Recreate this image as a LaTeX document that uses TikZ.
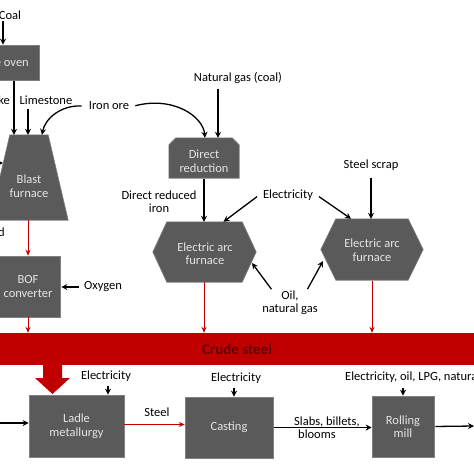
\documentclass[tikz,border=0pt]{standalone}
\usepackage{fontspec}
\setmainfont{Carlito}
\usetikzlibrary{arrows.meta,calc,backgrounds}
\definecolor{boxgray}{HTML}{5A5A5A}
\definecolor{boxedge}{HTML}{808080}
\definecolor{boxtext}{HTML}{E4E4E4}
\definecolor{steelred}{HTML}{C00000}
\definecolor{darkred}{HTML}{660000}
\begin{document}
\begin{tikzpicture}[x=1pt,y=-1pt,
  every node/.style={font=\fontsize{12.5}{13.5}\selectfont, inner sep=0pt, align=center},
  boxtxt/.style={text=boxtext},
  procbox/.style={rectangle, fill=boxgray, draw=boxedge, line width=0.6pt, text=boxtext},
  ghost/.style={rectangle, draw=none},
  shapefill/.style={fill=boxgray, draw=boxedge, line width=0.6pt},
  arr/.style={-{Stealth[length=6pt,width=6pt]}, line width=1.3pt, black, shorten <=1pt},
  redarr/.style={-{Stealth[length=6pt,width=5pt]}, line width=1pt, steelred}]
\useasboundingbox (0,0) rectangle (474,474);
\clip (0,0) rectangle (474,474);

% ---------- process nodes ----------
\node[procbox, minimum width=76pt, minimum height=35pt] (coke) at (1,62.5) {};
\node[boxtxt, anchor=east] (coketext) at (29,62.5) {Coke oven};
\node[ghost, minimum width=78pt, minimum height=85pt] (bf) at (29,177.5) {};
\node[boxtxt] (bftext) at (29,186) {Blast\\furnace};
\node[procbox, minimum width=64pt, minimum height=61pt] (bof) at (28,286.5) {BOF\\converter};
\node[ghost, minimum width=70pt, minimum height=40pt] (dr) at (204,158) {};
\node[boxtxt] (drtext) at (204,161) {Direct\\reduction};
\node[ghost, minimum width=103pt, minimum height=60pt] (eaf1) at (204.5,252) {};
\node[boxtxt] (eaf1text) at (205,253.5) {Electric arc\\furnace};
\node[ghost, minimum width=102pt, minimum height=61pt] (eaf2) at (372,249.5) {};
\node[boxtxt] (eaf2text) at (372,250) {Electric arc\\furnace};
\node[fill=steelred, minimum width=480pt, minimum height=32pt, text=darkred,
      font=\fontsize{15}{16}\selectfont\bfseries] (crude) at (237,349) {Crude steel};
\node[procbox, minimum width=95pt, minimum height=62pt] (ladle) at (76.5,426) {Ladle\\metallurgy};
\node[procbox, minimum width=88pt, minimum height=61pt] (cast) at (229,427.5) {Casting};
\node[procbox, minimum width=62pt, minimum height=61pt] (roll) at (403,426.5) {Rolling\\mill};

% ---------- shapes drawn behind ----------
\begin{scope}[on background layer]
  \path[shapefill] (bf.south west) -- (bf.south east) -- ([xshift=-20pt]bf.north east)
        -- ([xshift=20pt]bf.north west) -- cycle;
  \path[shapefill] (dr.south west) -- (dr.south east) -- ([yshift=-7pt]dr.north east)
        -- ([xshift=-7pt]dr.north east) -- ([xshift=7pt]dr.north west)
        -- ([yshift=-7pt]dr.north west) -- cycle;
  \path[shapefill] (eaf1.west) -- ([xshift=14pt]eaf1.north west) -- ([xshift=-14pt]eaf1.north east)
        -- (eaf1.east) -- ([xshift=-14pt]eaf1.south east) -- ([xshift=14pt]eaf1.south west) -- cycle;
  \path[shapefill] (eaf2.west) -- ([xshift=15pt]eaf2.north west) -- ([xshift=-15pt]eaf2.north east)
        -- (eaf2.east) -- ([xshift=-15pt]eaf2.south east) -- ([xshift=15pt]eaf2.south west) -- cycle;
\end{scope}

% ---------- labels ----------
\node (coal) at (10,15) {Coal};
\node[anchor=east] (cokelbl) at (10,100) {Coke};
\node (lime) at (46,100) {Limestone};
\node (ironore) at (109,106) {Iron ore};
\node[anchor=east] (dlbl) at (5,232) {d};
\node (oxy) at (103,287) {Oxygen};
\node (natgas) at (238,78) {Natural gas (coal)};
\node (dri) at (159,201.5) {Direct reduced\\iron};
\node (elec1) at (288,195) {Electricity};
\node (scrap) at (371,165) {Steel scrap};
\node (oil) at (290,302.5) {Oil,\\natural gas};
\node (el2) at (106,376) {Electricity};
\node (el3) at (236,378) {Electricity};
\node[anchor=west] (el4) at (345,377) {Electricity, oil, LPG, natural gas};
\node (steel) at (157,412) {Steel};
\node[anchor=west, align=left] (slabs) at (294,427.5) {Slabs, billets,\\\hspace*{4pt}blooms};

% ---------- free-end coordinates ----------
\coordinate (bfleft) at (-20,163);
\coordinate (bfin) at (3,163);
\coordinate (ladlein) at (-10,423);
\coordinate (outend) at (474,426);
\coordinate (oil1s) at (272,290);
\coordinate (oil1e) at (252,263);
\coordinate (oil2s) at (307,290);
\coordinate (oil2e) at (323,261);

% ---------- black connectors ----------
\draw[arr] ([xshift=-7pt]coal.south) -- ([xshift=2pt]coke.north);
\draw[arr] ([xshift=13pt]coke.south) -- ([xshift=-15pt]bf.north);
\draw[arr] ([xshift=-18pt,yshift=-3pt]lime.south) -- ([xshift=-1pt]bf.north);
\draw[arr] ([xshift=-6pt]ironore.west) .. controls +(-22,-1) and +(3,-16) .. ([xshift=13pt]bf.north);
\draw[arr] ([xshift=5pt]ironore.east) .. controls +(38,-10) and +(-2,-22) .. ([xshift=1pt]dr.north);
\draw[arr] (bfleft) -- (bfin);
\draw[arr] ([xshift=-4pt]oxy.west) -- ([xshift=1pt]oxy.west -| bof.east);
\draw[arr] ([xshift=-20pt,yshift=-4pt]natgas.south) -- ([xshift=14pt]dr.north);
\draw[arr] (dr.south) -- (dr.south |- eaf1.north);
\draw[arr] ([xshift=-5pt,yshift=-1pt]elec1.west) -- ([xshift=19pt]eaf1.north);
\draw[arr] ([xshift=5pt,yshift=-1pt]elec1.east) -- ([xshift=-21pt]eaf2.north);
\draw[arr] ([yshift=-6pt]scrap.south) -- (scrap.south |- eaf2.north);
\draw[arr] (oil1s) -- (oil1e);
\draw[arr] (oil2s) -- (oil2e);
\draw[arr] ([xshift=2pt,yshift=-3pt]el2.south) -- ([xshift=31.5pt]ladle.north);
\draw[arr] ([xshift=-2pt,yshift=-3pt]el3.south) -- ([xshift=5pt]cast.north);
\draw[arr] ([yshift=-4pt]el4.south west -| roll.north) -- (roll.north);
\draw[arr] (ladlein) -- (ladlein -| ladle.west);
\draw[arr] (cast.east) -- (cast.east -| roll.west);
\draw[arr] (roll.east) -- (outend);

% ---------- red connectors ----------
\draw[redarr] ([xshift=-1pt]bf.south) -- (bof.north);
\draw[redarr] (bof.south) -- (bof.south |- crude.north);
\draw[redarr] ([xshift=-0.5pt]eaf1.south) -- ([xshift=-0.5pt]eaf1.south |- crude.north);
\draw[redarr] ([yshift=-0.5pt]eaf2.south) -- (eaf2.south |- crude.north);
\draw[redarr] ([yshift=1.5pt]ladle.east) -- ([yshift=1.5pt]ladle.east -| cast.west);

% big arrow from crude steel to ladle
\coordinate (bigtip) at (52.5,394);
\fill[steelred] (43,364) -- (43,378) -- (35,378) -- (bigtip) -- (70,378) -- (62,378) -- (62,364) -- cycle;
\end{tikzpicture}
\end{document}
